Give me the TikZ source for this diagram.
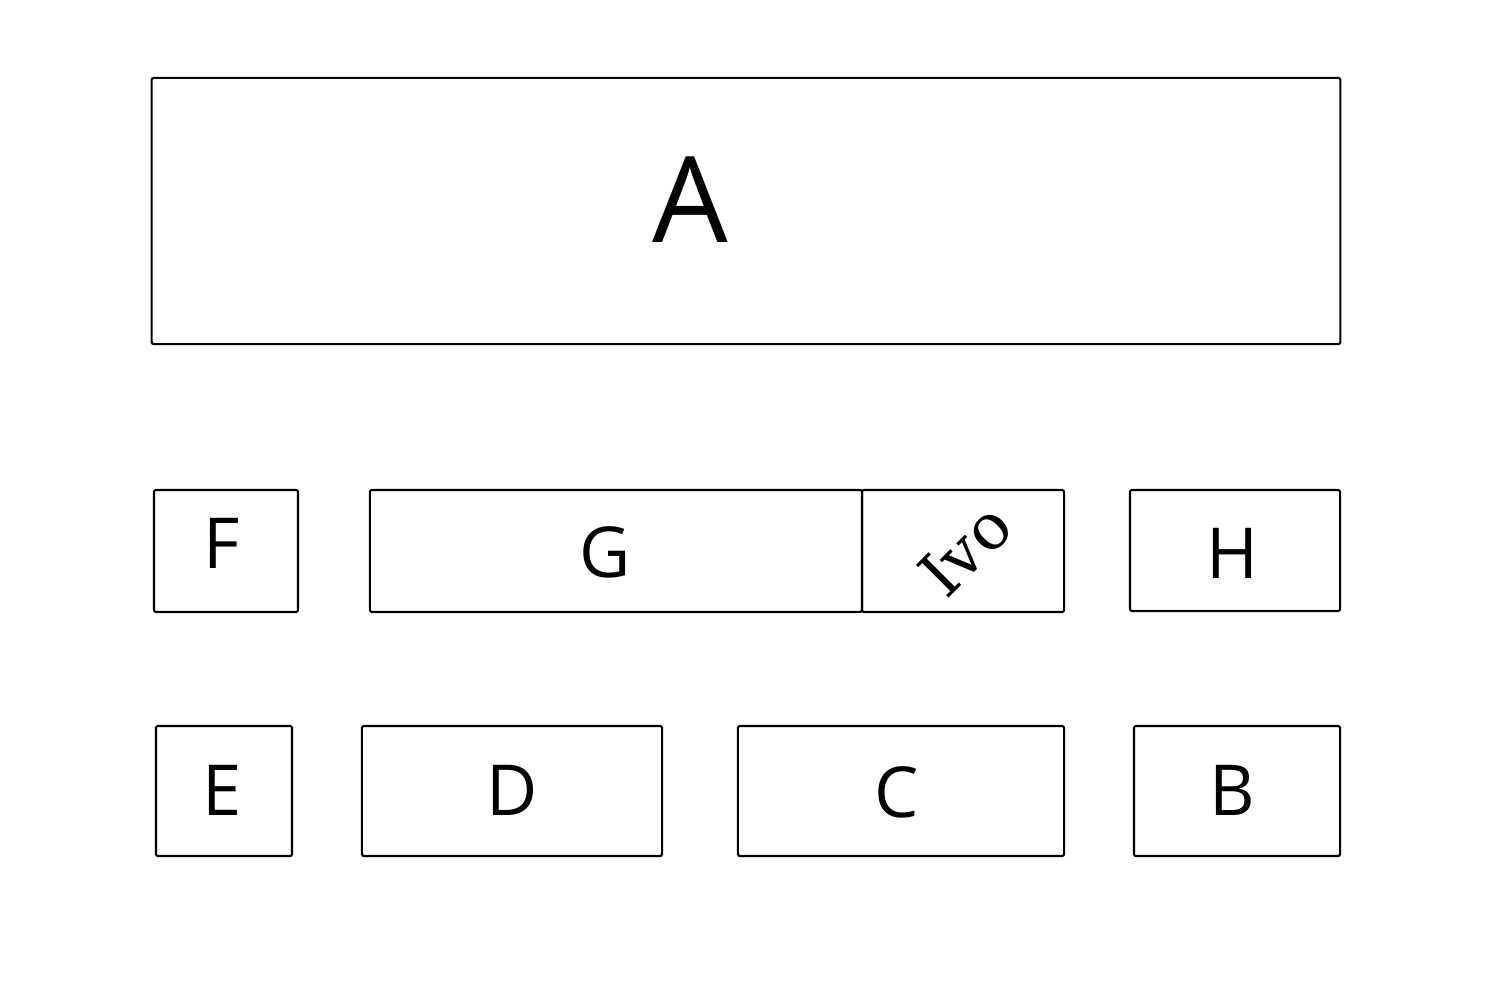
\documentclass[tikz,border=0pt]{standalone}
\usepackage{fontspec}
\setmainfont{Open Sans}
\newfontfamily\ivofont{DejaVu Serif}
\begin{document}
\begin{tikzpicture}[x=0.01cm,y=-0.01cm,
  box/.style={draw, line width=0.6pt, rounded corners=0.6pt, inner sep=0pt, outer sep=0pt},
  bigtxt/.style={inner sep=0pt, font=\fontsize{34}{40}\selectfont},
  txt/.style={inner sep=0pt, font=\fontsize{20}{24}\selectfont}]
\useasboundingbox[fill=white] (0,0) rectangle (1500,1000);
% boxes
\node[box, minimum width=11.88cm, minimum height=2.66cm] (A) at (746,211) {};
\node[box, minimum width=1.44cm, minimum height=1.22cm] (F) at (226,551) {};
\node[box, minimum width=4.92cm, minimum height=1.22cm] (G) at (616,551) {};
\node[box, minimum width=2.02cm, minimum height=1.22cm] (I) at (963,551) {};
\node[box, minimum width=2.10cm, minimum height=1.21cm] (H) at (1235,550.5) {};
\node[box, minimum width=1.36cm, minimum height=1.30cm] (E) at (224,791) {};
\node[box, minimum width=3.00cm, minimum height=1.30cm] (D) at (512,791) {};
\node[box, minimum width=3.26cm, minimum height=1.30cm] (C) at (901,791) {};
\node[box, minimum width=2.06cm, minimum height=1.30cm] (B) at (1237,791) {};
% labels
\node[bigtxt] (tA) at (690,200) {A};
\node[txt] (tF) at (222,543) {F};
\node[txt] (tG) at (605,552) {G};
\node[inner sep=0pt, rotate=45, font=\ivofont\fontsize{18}{22}\selectfont] (tI) at (965,550) {Ivo};
\node[txt] (tH) at (1232,553) {H};
\node[txt] (tE) at (222,790) {E};
\node[txt] (tD) at (512,790) {D};
\node[txt] (tC) at (897,792) {C};
\node[txt] (tB) at (1232,790) {B};
\end{tikzpicture}
\end{document}
